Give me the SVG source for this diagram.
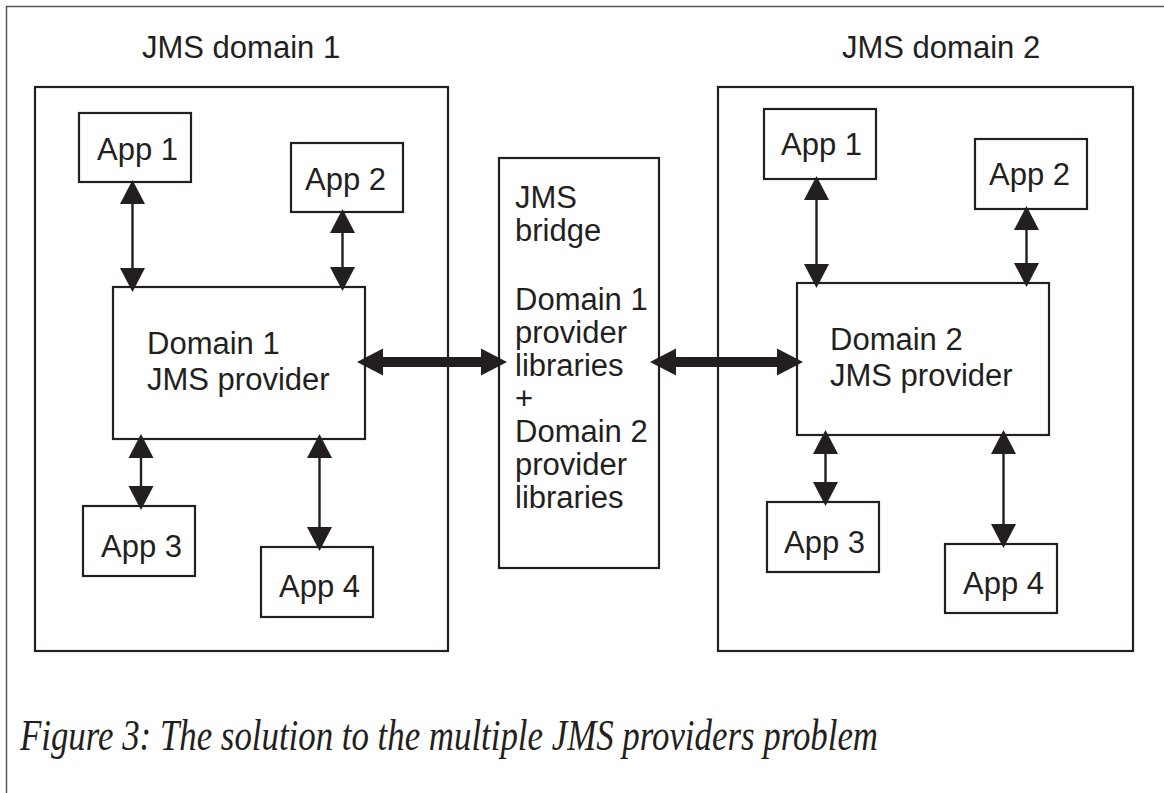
<svg xmlns="http://www.w3.org/2000/svg" width="1164" height="793" viewBox="0 0 1164 793">
<style>
.box{fill:#fff;stroke:#231f20;stroke-width:2.2}
.lbl{font-family:"Liberation Sans",Arial,sans-serif;font-size:31px;fill:#231f20}
.cap{font-family:"Liberation Serif","Times New Roman",serif;font-style:italic;font-size:45px;fill:#231f20}
.thin{stroke:#231f20;stroke-width:2.4;fill:none;marker-start:url(#ah);marker-end:url(#ah)}
.thick{stroke:#231f20;stroke-width:10;fill:none;marker-start:url(#ahb);marker-end:url(#ahb)}
</style>
<defs>
<marker id="ah" markerUnits="userSpaceOnUse" markerWidth="24" markerHeight="26" refX="14" refY="12.5" orient="auto-start-reverse" viewBox="0 0 24 25">
<path d="M0,0 L24,12.5 L0,25 z" fill="#231f20"/>
</marker>
<marker id="ahb" markerUnits="userSpaceOnUse" markerWidth="26" markerHeight="28" refX="16" refY="13.5" orient="auto-start-reverse" viewBox="0 0 26 27">
<path d="M0,0 L26,13.5 L0,27 z" fill="#231f20"/>
</marker>
</defs>
<rect x="0" y="0" width="1164" height="793" fill="#fff"/>
<g id="frame">
<path d="M6.5,793 L6.5,6.5 L1164,6.5" fill="none" stroke="#555" stroke-width="1.5"/>
</g>
<g id="domain1">
<rect class="box" x="35" y="87" width="413" height="564"/>
<text class="lbl" x="142" y="58">JMS domain 1</text>
</g>
<g id="domain2">
<rect class="box" x="718" y="87" width="415" height="564"/>
<text class="lbl" x="842" y="58">JMS domain 2</text>
</g>
<g id="d1-app1"><rect class="box" x="79" y="113" width="112" height="69"/><text class="lbl" x="97" y="160">App 1</text></g>
<g id="d1-app2"><rect class="box" x="291" y="143" width="112" height="69"/><text class="lbl" x="305" y="190">App 2</text></g>
<g id="d1-provider"><rect class="box" x="113" y="287" width="252" height="152"/><text class="lbl" x="147" y="354">Domain 1</text><text class="lbl" x="147" y="390">JMS provider</text></g>
<g id="d1-app3"><rect class="box" x="83" y="506" width="112" height="70"/><text class="lbl" x="101" y="557">App 3</text></g>
<g id="d1-app4"><rect class="box" x="261" y="547" width="112" height="70"/><text class="lbl" x="279" y="597">App 4</text></g>
<g id="bridge"><rect class="box" x="499" y="158" width="160" height="410"/>
<text class="lbl" x="515" y="208">JMS</text>
<text class="lbl" x="515" y="241">bridge</text>
<text class="lbl" x="515" y="310">Domain 1</text>
<text class="lbl" x="515" y="343">provider</text>
<text class="lbl" x="515" y="376">libraries</text>
<text class="lbl" x="515" y="409">+</text>
<text class="lbl" x="515" y="442">Domain 2</text>
<text class="lbl" x="515" y="475">provider</text>
<text class="lbl" x="515" y="508">libraries</text>
</g>
<g id="d2-app1"><rect class="box" x="764" y="109" width="112" height="70"/><text class="lbl" x="781" y="155">App 1</text></g>
<g id="d2-app2"><rect class="box" x="975" y="139" width="112" height="70"/><text class="lbl" x="989" y="185">App 2</text></g>
<g id="d2-provider"><rect class="box" x="797" y="283" width="252" height="152"/><text class="lbl" x="830" y="350">Domain 2</text><text class="lbl" x="830" y="386">JMS provider</text></g>
<g id="d2-app3"><rect class="box" x="767" y="502" width="112" height="70"/><text class="lbl" x="784" y="553">App 3</text></g>
<g id="d2-app4"><rect class="box" x="945" y="544" width="112" height="69"/><text class="lbl" x="963" y="594">App 4</text></g>
<g id="connectors">
<line class="thin" x1="132.5" y1="190" x2="132.5" y2="282"/>
<line class="thin" x1="342.5" y1="219" x2="342.5" y2="281"/>
<line class="thin" x1="141" y1="444" x2="141" y2="500"/>
<line class="thin" x1="319.5" y1="444" x2="319.5" y2="541"/>
<line class="thin" x1="816.5" y1="186" x2="816.5" y2="278"/>
<line class="thin" x1="1026.5" y1="216" x2="1026.5" y2="277"/>
<line class="thin" x1="825.5" y1="440" x2="825.5" y2="496"/>
<line class="thin" x1="1003.5" y1="440" x2="1003.5" y2="538"/>
<line class="thick" x1="367" y1="362" x2="497" y2="362"/>
<line class="thick" x1="660" y1="362" x2="793" y2="362"/>
</g>
<text class="cap" x="20" y="750" textLength="858" lengthAdjust="spacingAndGlyphs">Figure 3: The solution to the multiple JMS providers problem</text>
</svg>
